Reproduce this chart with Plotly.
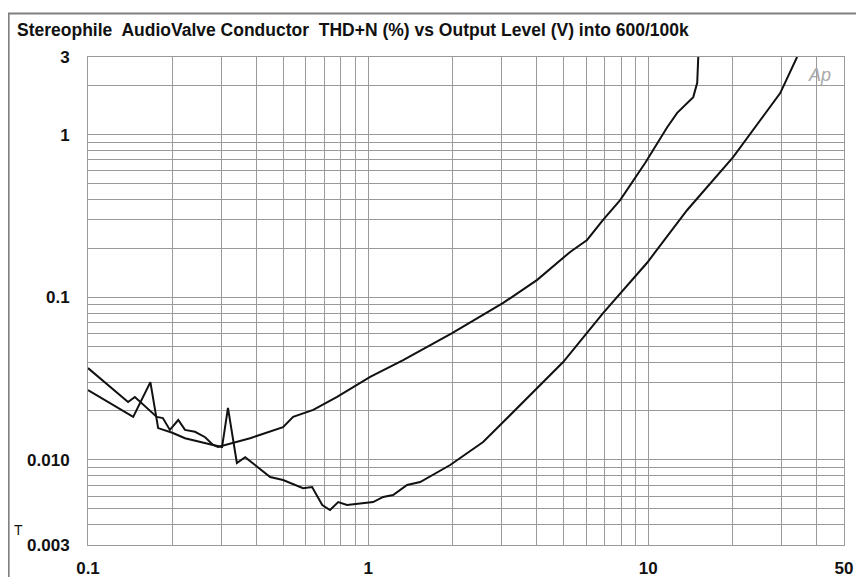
import plotly.graph_objects as go

# THD+N (%) vs output level (V)
x_600 = [0.1, 0.139, 0.147, 0.176, 0.185, 0.196, 0.21, 0.222, 0.241, 0.262, 0.279, 0.291,
         0.379, 0.447, 0.497, 0.54, 0.637, 0.775, 1.017, 1.334, 1.995, 3.036, 4.015, 5.264,
         6.05, 6.9, 7.94, 9.75, 11.69, 12.69, 14.48, 14.96, 15.09]
y_600 = [0.0367, 0.0227, 0.0244, 0.0184, 0.0181, 0.0153, 0.0176, 0.0153, 0.0149, 0.0138,
         0.0124, 0.012, 0.0136, 0.0149, 0.0159, 0.0184, 0.0203, 0.0244, 0.0324, 0.0411,
         0.0603, 0.0923, 0.128, 0.19, 0.225, 0.299, 0.396, 0.669, 1.11, 1.36, 1.70, 2.08, 3.0]

x_100k = [0.1, 0.145, 0.167, 0.178, 0.2, 0.222, 0.277, 0.301, 0.316, 0.34, 0.364, 0.447,
          0.497, 0.586, 0.631, 0.686, 0.731, 0.782, 0.841, 0.959, 1.042, 1.132, 1.228,
          1.378, 1.534, 1.963, 2.574, 3.036, 3.883, 4.97, 6.9, 9.91, 13.78, 20.1, 29.6, 34.0]
y_100k = [0.0269, 0.0184, 0.0301, 0.0157, 0.0147, 0.0136, 0.0124, 0.012, 0.0209, 0.00958,
          0.0104, 0.00785, 0.00753, 0.00671, 0.00682, 0.00528, 0.00492, 0.00551, 0.00528,
          0.00543, 0.00551, 0.00592, 0.00608, 0.00701, 0.00731, 0.00931, 0.0129, 0.0171,
          0.0262, 0.04, 0.08, 0.163, 0.344, 0.728, 1.80, 3.0]

x_labels = {0.1: "0.1", 1: "1", 10: "10", 50: "50"}
y_labels = {0.003: "0.003", 0.01: "0.010", 0.1: "0.1", 1: "1", 3: "3"}

TITLE = "Stereophile  AudioValve Conductor  THD+N (%) vs Output Level (V) into 600/100k"

# grid positions (1..9 per decade)
x_grid = []
for dec in [0.1, 1, 10]:
    for k in range(1, 10):
        v = round(k * dec, 4)
        if v <= 50:
            x_grid.append(v)
y_grid = []
for dec in [0.001, 0.01, 0.1, 1]:
    for k in range(1, 10):
        v = round(k * dec, 5)
        if 0.003 <= v <= 3:
            y_grid.append(v)

fig = go.Figure()
for xs, ys in [(x_600, y_600), (x_100k, y_100k)]:
    fig.add_trace(go.Scatter(x=xs, y=ys, mode="lines",
                             line=dict(color="#111111", width=2),
                             showlegend=False, hoverinfo="skip"))

tick_font = dict(family="Liberation Sans, Arial", size=17, color="#111111", weight="bold")
grid_col = "#9a9a9a"

fig.update_xaxes(
    type="log", range=[-1, 1.69897],
    tickvals=x_grid, ticktext=[x_labels.get(v, "") for v in x_grid],
    showgrid=True, gridcolor=grid_col, gridwidth=1,
    showline=True, linecolor=grid_col, mirror=True,
    ticks="", zeroline=False, tickfont=tick_font,
    ticklabelstandoff=8, automargin=False,
)
fig.update_yaxes(
    type="log", range=[-2.522879, 0.477121],
    tickvals=y_grid, ticktext=[y_labels.get(v, "") for v in y_grid],
    showgrid=True, gridcolor=grid_col, gridwidth=1,
    showline=True, linecolor=grid_col, mirror=True,
    ticks="", zeroline=False, tickfont=tick_font,
    ticklabelstandoff=14, automargin=False,
)

# outer frame (top and left edges visible)
fig.add_shape(type="rect", xref="paper", yref="paper", x0=-0.105, y0=-0.3, x1=1.1, y1=1.089,
              line=dict(color="#808080", width=2), fillcolor="rgba(0,0,0,0)", layer="above")

fig.add_annotation(text=TITLE, xref="paper", yref="paper", x=-0.0966, y=1.0553,
                   xanchor="left", yanchor="middle", showarrow=False,
                   font=dict(family="Liberation Sans, Arial", size=17.5, color="#111111", weight="bold"))
fig.add_annotation(text="<i>Ap</i>", xref="paper", yref="paper", x=0.985, y=0.963,
                   xanchor="right", yanchor="middle", showarrow=False,
                   font=dict(family="Liberation Sans, Arial", size=18, color="#a8a8a8"))
fig.add_annotation(text="T", xref="paper", yref="paper", x=-0.1, y=0.03,
                   xanchor="left", yanchor="middle", showarrow=False,
                   font=dict(family="Liberation Sans, Arial", size=14, color="#111111"))

# page adds an 8px body margin, so the figure is drawn 8px smaller
fig.update_layout(
    width=856, height=569,
    margin=dict(l=80, r=20, t=49, b=32),
    paper_bgcolor="white", plot_bgcolor="white",
    showlegend=False,
)

fig.write_html("out.html")
